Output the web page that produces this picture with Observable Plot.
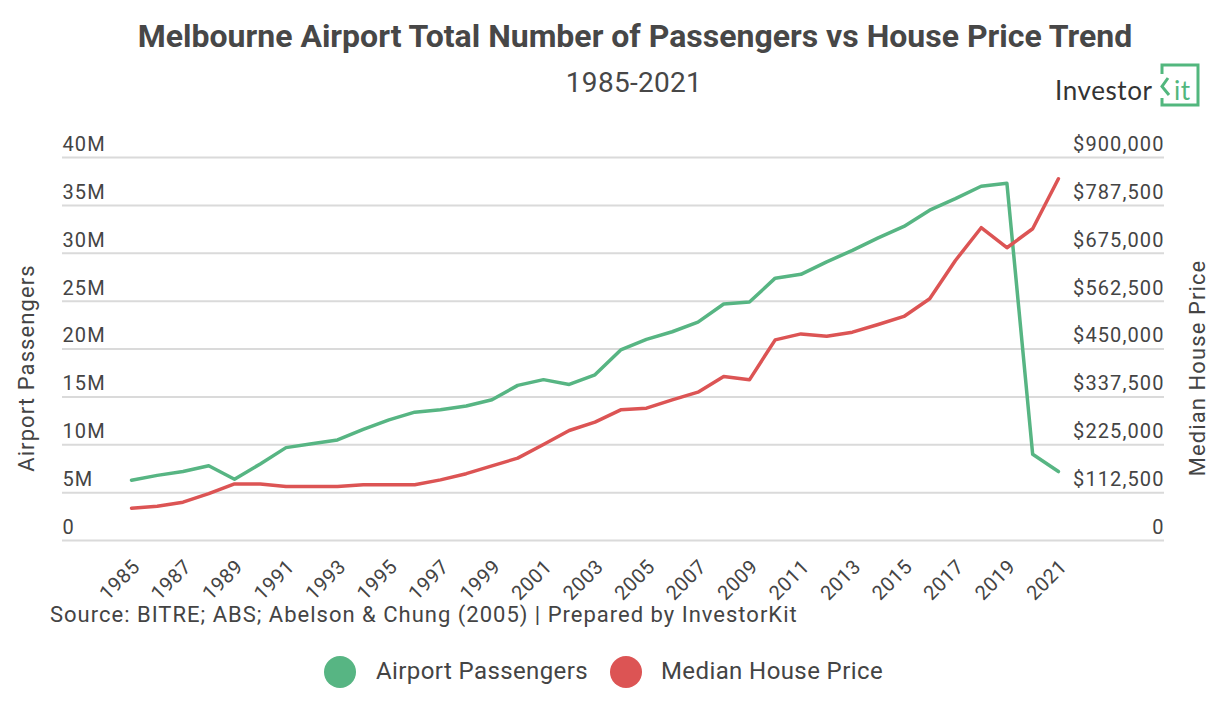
<!DOCTYPE html>
<html>
<head>
<meta charset="utf-8">
<script src="https://cdn.jsdelivr.net/npm/d3@7"></script>
<script src="https://cdn.jsdelivr.net/npm/@observablehq/plot@0.6"></script>
<style>
  html, body { margin: 0; padding: 0; background: #fff; }
  #page { position: relative; width: 1226px; height: 706px; overflow: hidden; font-family: Roboto, sans-serif; color: #444; }
  .abs { position: absolute; white-space: nowrap; }
  #title { left: 635px; top: 20px; transform: translateX(-50%); font-size: 32px; line-height: 32px; font-weight: 700; color: #474747; }
  #subtitle { left: 634px; top: 69px; transform: translateX(-50%); font-size: 28px; line-height: 28px; letter-spacing: 0.3px; color: #474747; }
  #logo { left: 1050px; top: 60px; }
  #chart { left: 0; top: 120px; }
  #caption { left: 50px; top: 604px; font-size: 22px; line-height: 22px; letter-spacing: 1px; color: #444; }
  .dot { position: absolute; width: 32px; height: 32px; border-radius: 50%; top: 656px; }
  .key { font-size: 24px; line-height: 24px; top: 659px; letter-spacing: 0.4px; color: #444; }
  #chart g[aria-label="y-axis tick label"] text { letter-spacing: 1.1px; }
  #chart g[aria-label="x-axis tick label"] text { letter-spacing: 0.5px; }
  #chart g[aria-label="text"] text { letter-spacing: 1.1px; }
</style>
</head>
<body>
<div id="page">
  <div id="title" class="abs">Melbourne Airport Total Number of Passengers vs House Price Trend</div>
  <div id="subtitle" class="abs">1985-2021</div>
  <svg id="logo" class="abs" width="160" height="56" viewBox="0 0 160 56">
    <title>InvestorKit</title>
    <text x="5" y="40" font-family="Lato, sans-serif" font-size="26" letter-spacing="0.6" fill="#333">Investor</text>
    <path d="M112,14 V5 H148 V45 H112 V38" fill="none" stroke="#52b77e" stroke-width="3"/>
    <path d="M118,18 L112,26.5 L119,35" fill="none" stroke="#52b77e" stroke-width="3"/>
    <text x="124" y="40" font-family="Lato, sans-serif" font-size="26" letter-spacing="0.6" fill="#52b77e">it</text>
  </svg>
  <div id="chart" class="abs"></div>
  <div id="caption" class="abs">Source: BITRE; ABS; Abelson &amp; Chung (2005) | Prepared by InvestorKit</div>
  <div class="dot" style="left:324px;background:#57b583"></div>
  <div class="abs key" style="left:376px">Airport Passengers</div>
  <div class="dot" style="left:610px;background:#dc5454"></div>
  <div class="abs key" style="left:661px">Median House Price</div>
</div>
<script>
// Melbourne Airport annual passengers and median house price, 1985-2021
const years = [1985, 1986, 1987, 1988, 1989, 1990, 1991, 1992, 1993, 1994,
  1995, 1996, 1997, 1998, 1999, 2000, 2001, 2002, 2003, 2004,
  2005, 2006, 2007, 2008, 2009, 2010, 2011, 2012, 2013, 2014,
  2015, 2016, 2017, 2018, 2019, 2020, 2021];

// Total passengers, millions
const passengersM = [6.3, 6.8, 7.2, 7.8, 6.4, 8.0, 9.7, 10.1, 10.5, 11.6,
  12.6, 13.4, 13.65, 14.05, 14.7, 16.2, 16.8, 16.3, 17.3, 19.9,
  21.0, 21.8, 22.8, 24.7, 24.9, 27.4, 27.8, 29.1, 30.3, 31.6,
  32.8, 34.5, 35.7, 37.0, 37.3, 9.0, 7.2];

// Median house price, AUD
const housePrice = [76000, 80500, 90000, 110000, 133000, 133000, 127000, 127000, 127000, 131000,
  131000, 131000, 142500, 157000, 175500, 193500, 225500, 258500, 278000, 307000,
  311000, 330500, 348500, 385500, 377500, 471500, 485500, 480000, 489500, 507500,
  526500, 568000, 658000, 735000, 688000, 732500, 850000];

// Axis extents: the two axes share the same eight gridline intervals
const PASSENGER_MAX = 40e6;
const PRICE_MAX = 900000;
const passengerTicks = [0, 5e6, 10e6, 15e6, 20e6, 25e6, 30e6, 35e6, 40e6];
const yearTicks = years.filter((_, i) => i % 2 === 0);

const GREEN = "#57b583";
const RED = "#dc5454";

const rows = years.map((year, i) => ({
  year,
  passengers: passengersM[i] * 1e6,
  price: housePrice[i]
}));

const leftFormat = d => d === 0 ? "0" : `${d / 1e6}M`;
const rightFormat = d => d === 0 ? "0" : "$" + d3.format(",")(Math.round(d * PRICE_MAX / PASSENGER_MAX));

const chart = Plot.plot({
  width: 1226,
  height: 478,
  marginTop: 37,
  marginBottom: 58,
  marginLeft: 62,
  marginRight: 62,
  style: { fontFamily: "Roboto, sans-serif", fontSize: "20px", color: "#444", background: "transparent", overflow: "visible" },
  x: { type: "linear", domain: [1982.32, 2025.12], axis: null },
  y: { domain: [0, PASSENGER_MAX], axis: null },
  marks: [
    Plot.ruleY(passengerTicks, { stroke: "#dadada", strokeWidth: 2 }),
    Plot.axisY(passengerTicks, {
      anchor: "left", label: null, tickSize: 0, tickPadding: 0,
      textAnchor: "start", dy: -13, tickFormat: leftFormat, fill: "#444"
    }),
    Plot.axisY(passengerTicks, {
      anchor: "right", label: null, tickSize: 0, tickPadding: 0,
      textAnchor: "end", dx: 0, dy: -13, tickFormat: rightFormat, fill: "#444"
    }),
    Plot.axisX(yearTicks, {
      anchor: "bottom", label: null, tickSize: 0, tickPadding: 23, tickRotate: -45,
      dx: 5, fontSize: 20, tickFormat: d => String(d), fill: "#444"
    }),
    Plot.text(["Airport Passengers"], {
      frameAnchor: "left", text: d => d, textAnchor: "middle", rotate: -90,
      dx: -36, dy: 19, fontSize: 22, fill: "#444"
    }),
    Plot.text(["Median House Price"], {
      frameAnchor: "right", text: d => d, textAnchor: "middle", rotate: -90,
      dx: 33, dy: 19, fontSize: 22, fill: "#444"
    }),
    Plot.line(rows, { x: "year", y: "passengers", stroke: GREEN, strokeWidth: 3.5 }),
    Plot.line(rows, { x: "year", y: d => d.price * PASSENGER_MAX / PRICE_MAX, stroke: RED, strokeWidth: 3.5 })
  ]
});

document.getElementById("chart").appendChild(chart);
</script>
</body>
</html>
